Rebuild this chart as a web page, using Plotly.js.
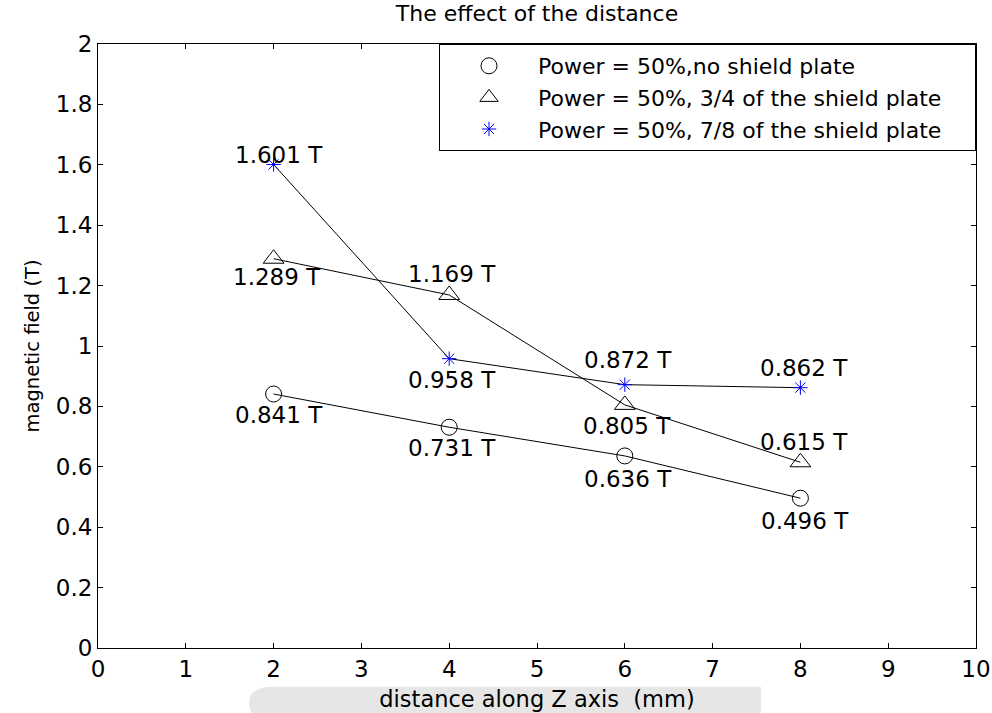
<!DOCTYPE html>
<html>
<head>
<meta charset="utf-8">
<script src="https://cdn.plot.ly/plotly-3.0.1.min.js"></script>
<style>html,body{margin:0;padding:0;background:#fff;}#chart{width:992px;height:713px;}</style>
</head>
<body>
<div id="chart"></div>
<script>
// ---- data ----
const distance = [2, 4, 6, 8];
const noShield = [0.841, 0.731, 0.636, 0.496];
const shield34 = [1.289, 1.169, 0.805, 0.615];
const shield78 = [1.601, 0.958, 0.872, 0.862];
const seriesNames = [
  'Power = 50%,no shield plate',
  'Power = 50%, 3/4 of the shield plate',
  'Power = 50%, 7/8 of the shield plate'
];
const xTickVals = [0, 1, 2, 3, 4, 5, 6, 7, 8, 9, 10];
const xTickText = ['0', '1', '2', '3', '4', '5', '6', '7', '8', '9', '10'];
const yTickVals = [0, 0.2, 0.4, 0.6, 0.8, 1, 1.2, 1.4, 1.6, 1.8, 2];
const yTickText = ['0', '0.2', '0.4', '0.6', '0.8', '1', '1.2', '1.4', '1.6', '1.8', '2'];

// ---- label placement (style): pixel offsets of value labels ----
const labelShift = {
  noShield: [[5, 21], [3, 21], [3, 23], [5, 23]],
  shield34: [[3, 18], [3, -21], [2, 21], [4, -20]],
  shield78: [[5, -10], [3, 21], [3, -25], [4, -20]]
};

const FONT = 'DejaVu Sans, Arial, sans-serif';
const NB = '\u00a0';
const series = [
  {y: noShield, name: seriesNames[0], key: 'noShield', symbol: 'circle-open', size: 16, color: '#000000'},
  {y: shield34, name: seriesNames[1], key: 'shield34', symbol: 'triangle-up-open', size: 18, color: '#000000'},
  {y: shield78, name: seriesNames[2], key: 'shield78', symbol: 'asterisk-open', size: 12, color: '#0000ff'}
];

const traces = [];
series.forEach(s => {
  traces.push({
    x: distance, y: s.y, type: 'scatter', mode: 'lines',
    line: {color: '#000000', width: 1}, showlegend: false, hoverinfo: 'skip'
  });
});
series.forEach(s => {
  traces.push({
    x: distance, y: s.y, type: 'scatter', mode: 'markers', name: s.name + NB.repeat(4),
    marker: {symbol: s.symbol, size: s.size, color: s.color, line: {color: s.color, width: 1}}
  });
});

const annotations = [];
series.forEach(s => {
  s.y.forEach((v, i) => {
    annotations.push({
      x: distance[i], y: v, xref: 'x', yref: 'y',
      text: v.toFixed(3) + ' T', showarrow: false,
      xshift: labelShift[s.key][i][0], yshift: -labelShift[s.key][i][1],
      font: {family: FONT, size: 23, color: '#000000'}
    });
  });
});

const layout = {
  width: 992, height: 713,
  paper_bgcolor: '#ffffff', plot_bgcolor: '#ffffff',
  margin: {l: 98, r: 16, t: 44, b: 65},
  font: {family: FONT, color: '#000000'},
  title: {text: 'The effect of the distance', font: {family: FONT, size: 22, color: '#000000'},
          xref: 'paper', x: 0.5, xanchor: 'center', y: 0.981, yanchor: 'middle'},
  xaxis: {
    range: [0, 10], tickmode: 'array', tickvals: xTickVals, ticktext: xTickText,
    ticks: 'inside', ticklen: 5, tickcolor: '#000000', showline: true, linecolor: '#000000',
    linewidth: 1, mirror: 'allticks', showgrid: false, zeroline: false,
    tickfont: {family: FONT, size: 23, color: '#000000'},
    title: {text: 'distance along Z axis  (mm)', font: {family: FONT, size: 22.5, color: '#000000'}, standoff: 10}
  },
  yaxis: {
    range: [0, 2], tickmode: 'array', tickvals: yTickVals, ticktext: yTickText,
    ticks: 'inside', ticklen: 5, tickcolor: '#000000', showline: true, linecolor: '#000000',
    linewidth: 1, mirror: 'allticks', showgrid: false, zeroline: false,
    tickfont: {family: FONT, size: 23, color: '#000000'},
    title: {text: 'magnetic field (T)', font: {family: FONT, size: 19.5, color: '#000000'}, standoff: 10}
  },
  legend: {
    x: 1, xanchor: 'right', y: 1, yanchor: 'top',
    bgcolor: '#ffffff', bordercolor: '#000000', borderwidth: 1,
    font: {family: FONT, size: 22, color: '#000000'},
    itemwidth: 88, tracegroupgap: 0
  },
  shapes: [
    {type: 'path', xref: 'paper', yref: 'paper', layer: 'below',
     path: 'M 0.20,-0.064 L 0.755,-0.064 L 0.755,-0.12 L 0.20,-0.12 Q 0.172,-0.12 0.172,-0.092 Q 0.172,-0.064 0.20,-0.064 Z',
     fillcolor: '#e6e6e6', line: {width: 0}}
  ],
  annotations: annotations
};

Plotly.newPlot('chart', traces, layout, {displayModeBar: false, staticPlot: true});
</script>
</body>
</html>
